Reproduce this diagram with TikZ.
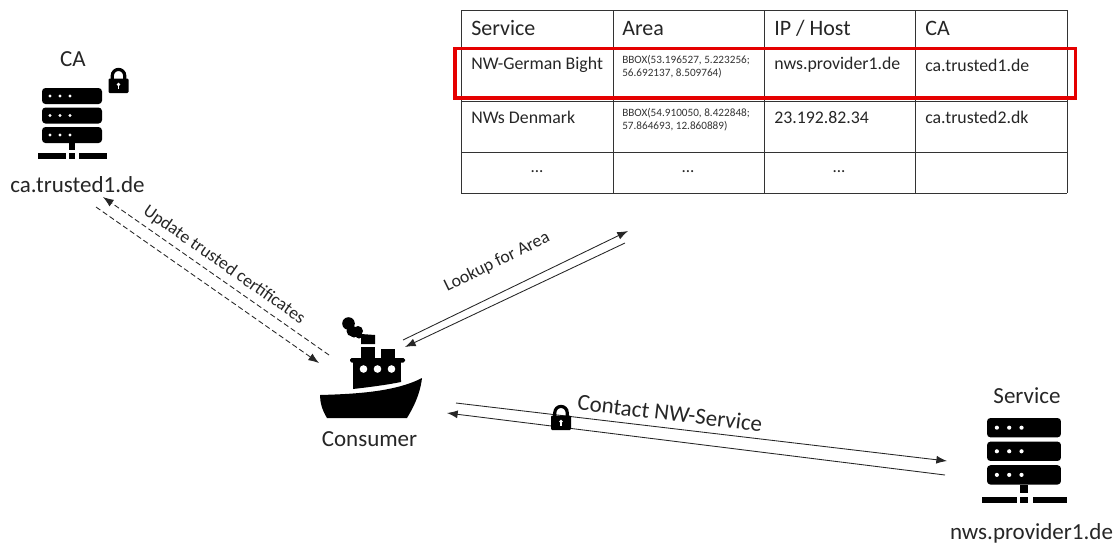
\documentclass[tikz,border=0pt]{standalone}
\usepackage{fontspec}
\setmainfont{Carlito}
\usetikzlibrary{arrows.meta}
\newcommand{\pxf}[1]{\fontsize{\dimexpr#1pt*3/4\relax}{\dimexpr#1pt*9/10\relax}\selectfont}
\tikzset{
  lbl/.style={inner sep=0pt,text=black!85,font=\pxf{23}},
  rotlbl/.style={inner sep=0pt,text=black!85,font=\pxf{17.8}},
  cell/.style={inner sep=0pt,anchor=west,text=black!85,font=\pxf{17.8}},
  head/.style={inner sep=0pt,anchor=west,text=black!85,font=\pxf{22}},
  small/.style={inner sep=0pt,anchor=north west,align=left,text=black!80,font=\pxf{11.2}},
  dots/.style={inner sep=0pt,text=black!85,font=\pxf{17}},
  rule/.style={draw=black!80,line width=0.75pt},
  conn/.style={draw=black!85,line width=0.65pt,-{Latex[length=8pt,width=6pt]}},
  dconn/.style={conn,dash pattern=on 4pt off 2.2pt},
  pics/server/.style={code={
    \foreach \yy in {0,19.5,39}{\fill[black,rounded corners=2.6pt] (0,\yy) rectangle (60,\yy+16);
      \foreach \xx in {8,18,28}{\fill[white] (\xx,\yy+8) circle (1.7);}}
    \fill (27,55) rectangle (33,62);
    \fill (-4,65) rectangle (24,70.5);
    \fill (27,65) rectangle (33,70.5);
    \fill (37,65) rectangle (65,70.5);
  }},
  pics/padlock/.style={code={
    \draw[line width=2.4pt,black] (3.8,12) -- (3.8,7.6) arc[start angle=180,end angle=360,radius=6.2] -- (16.2,12);
    \fill[black,rounded corners=.8pt] (0,10.5) rectangle (20,25);
    \fill[white] (10,16.5) circle (1.9);
    \fill[white] (9.2,16.5) rectangle (10.8,21);
  }},
}
\begin{document}
\begin{tikzpicture}[x=0.75pt,y=-0.75pt]
\useasboundingbox (0,0) rectangle (1117,544);
% table
\foreach \xx in {461,613,764,915,1067}{\draw[rule] (\xx,10) -- (\xx,193);}
\foreach \yy in {10,47,101,152,193}{\draw[rule] (461,\yy) -- (1067,\yy);}
\node[head] (h1) at (471,28.5) {Service};
\node[head] (h2) at (622,28.5) {Area};
\node[head] (h3) at (774,28.5) {IP / Host};
\node[head] (h4) at (925,28.5) {CA};
\node[cell] (a1) at (471,65) {NW-German Bight};
\node[small] (a2) at (622,55) {BBOX(53.196527, 5.223256;\\56.692137, 8.509764)};
\node[cell] (a3) at (774,65) {nws.provider1.de};
\node[cell] (a4) at (925,65) {ca.trusted1.de};
\node[cell] (b1) at (471,117) {NWs Denmark};
\node[small] (b2) at (622,108) {BBOX(54.910050, 8.422848;\\57.864693, 12.860889)};
\node[cell] (b3) at (774,117) {23.192.82.34};
\node[cell] (b4) at (925,117) {ca.trusted2.dk};
\node[dots] (c1) at (537,172) {...};
\node[dots] (c2) at (688,172) {...};
\node[dots] (c3) at (839,172) {...};
\draw[red!90!black,line width=2.3pt] (455,48.5) rectangle (1075.5,98);
% CA
\node[lbl] (catitle) at (73,59.5) {CA};
\pic at (42,88) {server};
\pic at (108.5,68) {padlock};
\node[lbl] (cahost) at (77.5,185) {ca.trusted1.de};
% Service
\node[lbl] (svctitle) at (1027,396) {Service};
\pic at (987,418) [xscale=1.233,yscale=1.21] {server};
\node[lbl] (svchost) at (1031.5,533) {nws.provider1.de};
% ship
\fill[black] (320,395) .. controls (355,394) and (395,392) .. (422,378) .. controls (420,395) and (413,408) .. (407,418) -- (327,418) .. controls (322,410) and (320,402) .. (320,395) -- cycle;
\fill[black] (353,361) rectangle (401,380);
\fill[black] (353,380) -- (401,380) -- (401,382) .. controls (386,385) and (370,387) .. (353,389) -- cycle;
\fill[black,rounded corners=1.2pt] (350,358) rectangle (405,362.5);
\fill[black] (361,347) rectangle (375,359);
\fill[black] (381,349) rectangle (395,359);
\foreach \xx in {363.5,377.5,391.5}{\fill[white] (\xx,369) circle (3.8);}
\fill[black] (361,334) -- (375,335) -- (375,344) -- (361,344) -- cycle;
\fill[black] (348.5,323.5) circle (6.3);
\fill[black] (352,331) circle (5.5);
\fill[black] (358,331) circle (5);
\fill[black] (354,334) circle (3.5);
\fill[black] (359,335) circle (3.5);
\node[lbl] (consumer) at (369.5,439.5) {Consumer};
% connectors
\coordinate (d1s) at (329,355); \coordinate (d1e) at (103,197);
\coordinate (d2s) at (96,207); \coordinate (d2e) at (319,363);
\coordinate (l1s) at (403,340); \coordinate (l1e) at (628,231);
\coordinate (l2s) at (625,243); \coordinate (l2e) at (405,347);
\coordinate (k1s) at (456,403); \coordinate (k1e) at (947,461);
\coordinate (k2s) at (945,475); \coordinate (k2e) at (447,413);
\draw[dconn] (d1s) -- (d1e);
\draw[dconn] (d2s) -- (d2e);
\draw[conn] (l1s) -- (l1e);
\draw[conn] (l2s) -- (l2e);
\draw[conn] (k1s) -- (k1e);
\draw[conn] (k2s) -- (k2e);
\pic at (551,405) {padlock};
\node[rotlbl,rotate=-35] (upd) at (224,265) {Update trusted certificates};
\node[rotlbl,rotate=26] (look) at (497,262) {Lookup for Area};
\node[lbl,rotate=-6.7] (cont) at (670,413) {Contact NW-Service};
\end{tikzpicture}
\end{document}
